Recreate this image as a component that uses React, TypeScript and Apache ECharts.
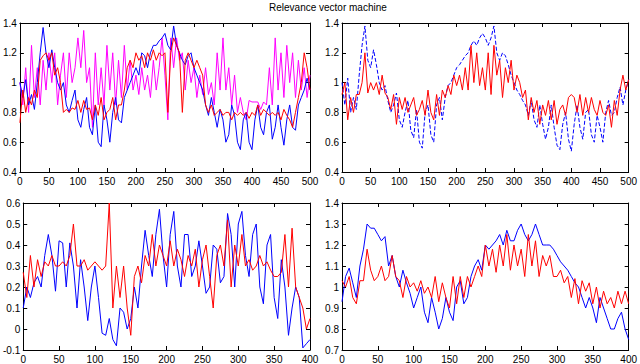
import React, { useEffect, useRef } from "react";
import * as echarts from "echarts";

const TITLE = "Relevance vector machine";
const STEP = 5;

// Top-left panel (x 0..500, step 5)
const tlBlue = [1.0,0.9,1.02,0.85,0.92,0.82,1.0,1.2,1.37,1.2,1.1,1.22,1.1,1.0,0.95,1.0,0.85,0.8,0.88,0.95,0.75,0.7,0.82,0.9,0.7,0.65,0.85,0.6,0.57,0.85,0.75,0.6,0.8,0.9,0.75,0.73,0.9,0.95,1.0,1.05,1.1,1.05,1.2,1.18,1.1,1.2,1.25,1.25,1.28,1.3,1.33,1.25,1.22,1.38,1.25,1.2,1.15,1.12,1.18,1.2,1.1,1.05,1.0,0.95,0.85,0.78,0.9,0.8,0.7,0.82,0.75,0.6,0.65,0.85,0.78,0.6,0.55,0.75,0.8,0.6,0.55,0.75,0.85,0.7,0.65,0.8,0.85,0.62,0.7,0.85,0.7,0.58,0.75,0.85,0.7,0.68,0.85,0.9,0.95,1.03,0.95];
const tlRed = [0.73,0.95,0.8,0.9,0.85,0.95,0.9,1.15,1.18,1.2,1.15,1.2,1.05,1.1,1.0,0.8,0.82,0.8,0.83,0.82,0.88,0.8,0.88,0.82,0.83,0.75,0.85,0.78,0.9,0.75,0.8,0.82,0.9,0.75,0.85,0.85,0.95,1.1,1.15,1.1,1.2,1.15,1.18,1.1,1.2,1.15,1.22,1.15,1.2,1.18,1.2,0.8,1.2,1.3,1.25,1.2,0.8,1.15,1.2,1.15,1.1,1.15,1.1,1.05,0.85,0.8,0.85,0.78,0.8,0.82,0.78,0.8,0.8,0.75,0.8,0.78,0.8,0.78,0.8,0.76,0.8,0.78,0.85,0.78,0.82,0.8,0.78,0.8,0.78,0.8,0.75,0.82,0.78,0.75,0.7,0.8,0.9,1.0,1.2,1.1,0.95];
const tlMagenta = [1.0,0.85,1.1,0.8,1.25,0.9,1.1,0.85,1.15,0.95,1.2,1.0,1.2,0.85,1.05,1.2,0.9,1.2,1.0,1.1,1.3,1.1,1.35,1.0,1.1,0.7,1.2,0.85,1.1,0.85,1.25,0.95,1.2,0.85,1.15,0.9,1.25,0.95,1.15,0.95,1.05,0.92,1.1,0.95,1.05,0.9,1.15,0.95,1.1,1.3,1.05,0.75,1.3,1.1,1.3,1.15,1.2,0.95,1.15,1.0,1.1,0.9,1.05,0.92,1.1,0.92,1.0,0.85,1.2,0.95,1.3,0.95,1.1,0.85,1.05,0.8,0.9,0.8,0.75,0.88,0.87,0.87,0.87,0.82,0.87,0.85,1.1,0.85,1.3,0.95,1.2,0.9,1.25,1.0,1.2,0.9,1.15,0.95,1.1,0.9,1.05];

// Top-right panel (x 0..500, step 5)
const trBlue = [1.0,0.85,1.03,0.8,0.9,0.82,1.05,1.25,1.38,1.15,1.1,1.22,1.12,1.0,0.95,0.98,0.88,0.8,0.85,0.93,0.75,0.7,0.8,0.88,0.68,0.63,0.82,0.6,0.56,0.8,0.85,0.65,0.6,0.85,0.9,0.75,0.9,0.98,1.0,1.05,1.1,1.12,1.15,1.18,1.2,1.25,1.28,1.25,1.3,1.33,1.3,1.25,1.3,1.38,1.2,1.15,1.2,1.18,1.12,1.05,1.0,0.95,0.92,0.88,0.85,0.78,0.88,0.75,0.7,0.85,0.72,0.62,0.7,0.85,0.7,0.58,0.55,0.72,0.8,0.62,0.54,0.72,0.85,0.7,0.62,0.8,0.82,0.65,0.6,0.78,0.7,0.6,0.8,0.88,0.78,0.8,0.9,0.97,0.85,0.95,1.02];
const trRed = [0.92,1.0,0.75,0.9,0.8,0.92,0.92,1.0,1.2,0.93,1.0,0.95,1.0,0.92,1.05,0.93,0.9,0.82,0.92,0.72,0.9,0.82,0.9,0.8,0.85,0.9,0.78,0.82,0.88,0.78,0.95,0.8,0.75,0.92,0.78,0.95,0.9,0.98,0.92,1.05,0.98,1.05,0.95,1.1,0.95,1.25,1.0,1.2,0.98,1.1,0.95,1.2,0.92,1.25,1.05,1.15,0.9,1.1,1.0,1.15,0.95,1.05,1.0,0.9,0.95,0.75,0.9,0.8,0.88,0.72,0.85,0.78,0.88,0.75,0.88,0.72,0.82,0.85,0.78,0.9,0.92,0.9,0.8,0.92,0.78,0.9,0.8,0.9,0.82,0.78,0.88,0.8,0.78,0.85,0.7,0.88,0.78,0.95,1.05,0.95,1.02];

// Bottom-left panel (x 0..400, step 5)
const blBlue = [0.1,0.2,0.15,0.22,0.25,0.2,0.35,0.45,0.35,0.18,0.42,0.41,0.2,0.41,0.3,0.1,0.33,0.2,0.04,0.2,0.3,0.15,-0.02,-0.03,0.05,-0.05,-0.08,0.1,0.08,0.0,0.05,0.2,0.1,0.3,0.47,0.35,0.25,0.45,0.57,0.35,0.2,0.45,0.56,0.3,0.2,0.45,0.45,0.25,0.3,0.42,0.3,0.17,0.2,0.4,0.38,0.22,0.25,0.55,0.45,0.2,0.5,0.56,0.35,0.25,0.45,0.5,0.2,0.12,0.4,0.45,0.15,0.05,0.33,0.2,-0.03,0.1,0.2,0.15,-0.09,-0.07,-0.05];
const blRed = [0.27,0.15,0.35,0.2,0.33,0.25,0.32,0.3,0.35,0.3,0.3,0.32,0.3,0.35,0.5,0.3,0.3,0.33,0.28,0.3,0.32,0.3,0.28,0.3,0.6,0.1,0.3,0.15,0.3,0.1,-0.03,0.25,0.3,0.22,0.35,0.3,0.45,0.3,0.4,0.35,0.3,0.42,0.3,0.38,0.33,0.25,0.35,0.3,0.38,0.2,0.33,0.4,0.25,0.1,0.35,0.4,0.3,0.52,0.2,0.4,0.3,0.45,0.3,0.33,0.28,0.3,0.35,0.3,0.32,0.28,0.25,0.25,0.27,0.45,0.2,0.48,0.2,0.15,0.1,0.0,0.05];

// Bottom-right panel (x 0..400, step 5)
const brBlue = [0.93,1.05,1.09,1.02,0.95,1.1,1.18,1.3,1.28,1.28,1.25,1.22,1.24,1.1,1.15,1.05,1.0,1.08,1.02,0.97,0.9,0.95,1.0,0.88,0.83,0.95,0.88,0.8,0.85,0.95,0.88,0.84,1.0,1.03,0.92,0.95,1.05,1.1,1.13,1.08,1.2,1.18,1.2,1.22,1.25,1.2,1.27,1.22,1.22,1.27,1.3,1.25,1.22,1.25,1.3,1.25,1.2,1.2,1.2,1.18,1.15,1.12,1.1,1.08,1.05,1.02,1.0,0.95,0.9,0.95,0.9,0.83,0.95,0.9,0.85,0.8,0.8,0.85,0.88,0.8,0.75];
const brRed = [1.03,1.0,1.05,0.95,0.92,1.03,1.03,1.18,1.08,1.03,1.05,1.1,1.03,1.05,1.15,1.05,1.03,0.95,1.05,1.0,1.02,0.98,1.03,0.97,1.0,0.95,1.05,0.93,1.02,0.95,0.9,1.05,0.92,1.05,0.95,1.05,1.0,1.05,1.1,1.05,1.2,1.1,1.18,1.07,1.2,1.1,1.25,1.08,1.2,1.1,1.18,1.05,1.25,1.1,1.22,1.05,1.15,1.1,1.15,1.05,1.05,1.08,1.02,1.05,0.95,1.04,0.92,1.03,0.98,1.02,0.92,1.0,0.9,0.98,0.92,0.95,0.9,0.98,0.92,0.98,0.92];

const toXY = (arr: number[]) => arr.map((v, i) => [i * STEP, v]);

export default function App() {
  const ref = useRef<HTMLDivElement>(null);
  useEffect(() => {
    document.body.style.margin = "0";
    if (!ref.current) return;
    const chart = echarts.init(ref.current, null, { renderer: "svg" });
    const font = "Liberation Sans, Arial, sans-serif";
    const grids = [
      { left: 18, top: 23, width: 292, height: 149 },
      { left: 342, top: 23, width: 291, height: 149 },
      { left: 18, top: 203, width: 292, height: 149 },
      { left: 342, top: 203, width: 291, height: 149 },
    ];
    const xRanges = [500, 500, 400, 400];
    const yRanges = [
      [0.4, 1.4, 0.2],
      [0.4, 1.4, 0.2],
      [-0.1, 0.6, 0.1],
      [0.7, 1.4, 0.1],
    ];
    const axLine = { show: true, onZero: false, lineStyle: { color: "#000", width: 1 } };
    const tick = { show: true, inside: true, length: 4, lineStyle: { color: "#000" } };
    const xAxis: any[] = [];
    const yAxis: any[] = [];
    grids.forEach((_, g) => {
      xAxis.push({
        type: "value", gridIndex: g, min: 0, max: xRanges[g], interval: 50,
        axisLine: axLine, axisTick: tick, splitLine: { show: false },
        axisLabel: { color: "#000", fontSize: 10, fontFamily: font, margin: 4 },
      });
      xAxis.push({
        type: "value", gridIndex: g, position: "top", min: 0, max: xRanges[g], interval: 50,
        axisLine: axLine, axisTick: tick, splitLine: { show: false },
        axisLabel: { show: false },
      });
      const [mn, mx, iv] = yRanges[g];
      yAxis.push({
        type: "value", gridIndex: g, min: mn, max: mx, interval: iv,
        axisLine: axLine, axisTick: tick, splitLine: { show: false },
        axisLabel: {
          color: "#000", fontSize: 10, fontFamily: font, margin: 3,
          formatter: (v: number) => String(Math.round(v * 10) / 10),
        },
      });
      yAxis.push({
        type: "value", gridIndex: g, position: "right", min: mn, max: mx, interval: iv,
        axisLine: axLine, axisTick: tick, splitLine: { show: false },
        axisLabel: { show: false },
      });
    });
    const line = (g: number, data: number[], color: string, dashed = false) => ({
      type: "line", xAxisIndex: g * 2, yAxisIndex: g * 2, data: toXY(data),
      symbol: "none", silent: true,
      lineStyle: { color, width: 1, type: dashed ? "dashed" : "solid" },
    });
    chart.setOption({
      animation: false,
      title: {
        text: TITLE, left: 264, top: -3,
        textStyle: { fontSize: 10, fontWeight: "normal", color: "#000", fontFamily: font },
      },
      grid: grids,
      xAxis,
      yAxis,
      series: [
        line(0, tlMagenta, "#ff00ff"),
        line(0, tlBlue, "#0000ff"),
        line(0, tlRed, "#ff0000"),
        line(1, trBlue, "#0000ff", true),
        line(1, trRed, "#ff0000"),
        line(2, blBlue, "#0000ff"),
        line(2, blRed, "#ff0000"),
        line(3, brBlue, "#0000ff"),
        line(3, brRed, "#ff0000"),
      ],
    });
    return () => chart.dispose();
  }, []);
  return <div ref={ref} style={{ width: 640, height: 364 }} />;
}
